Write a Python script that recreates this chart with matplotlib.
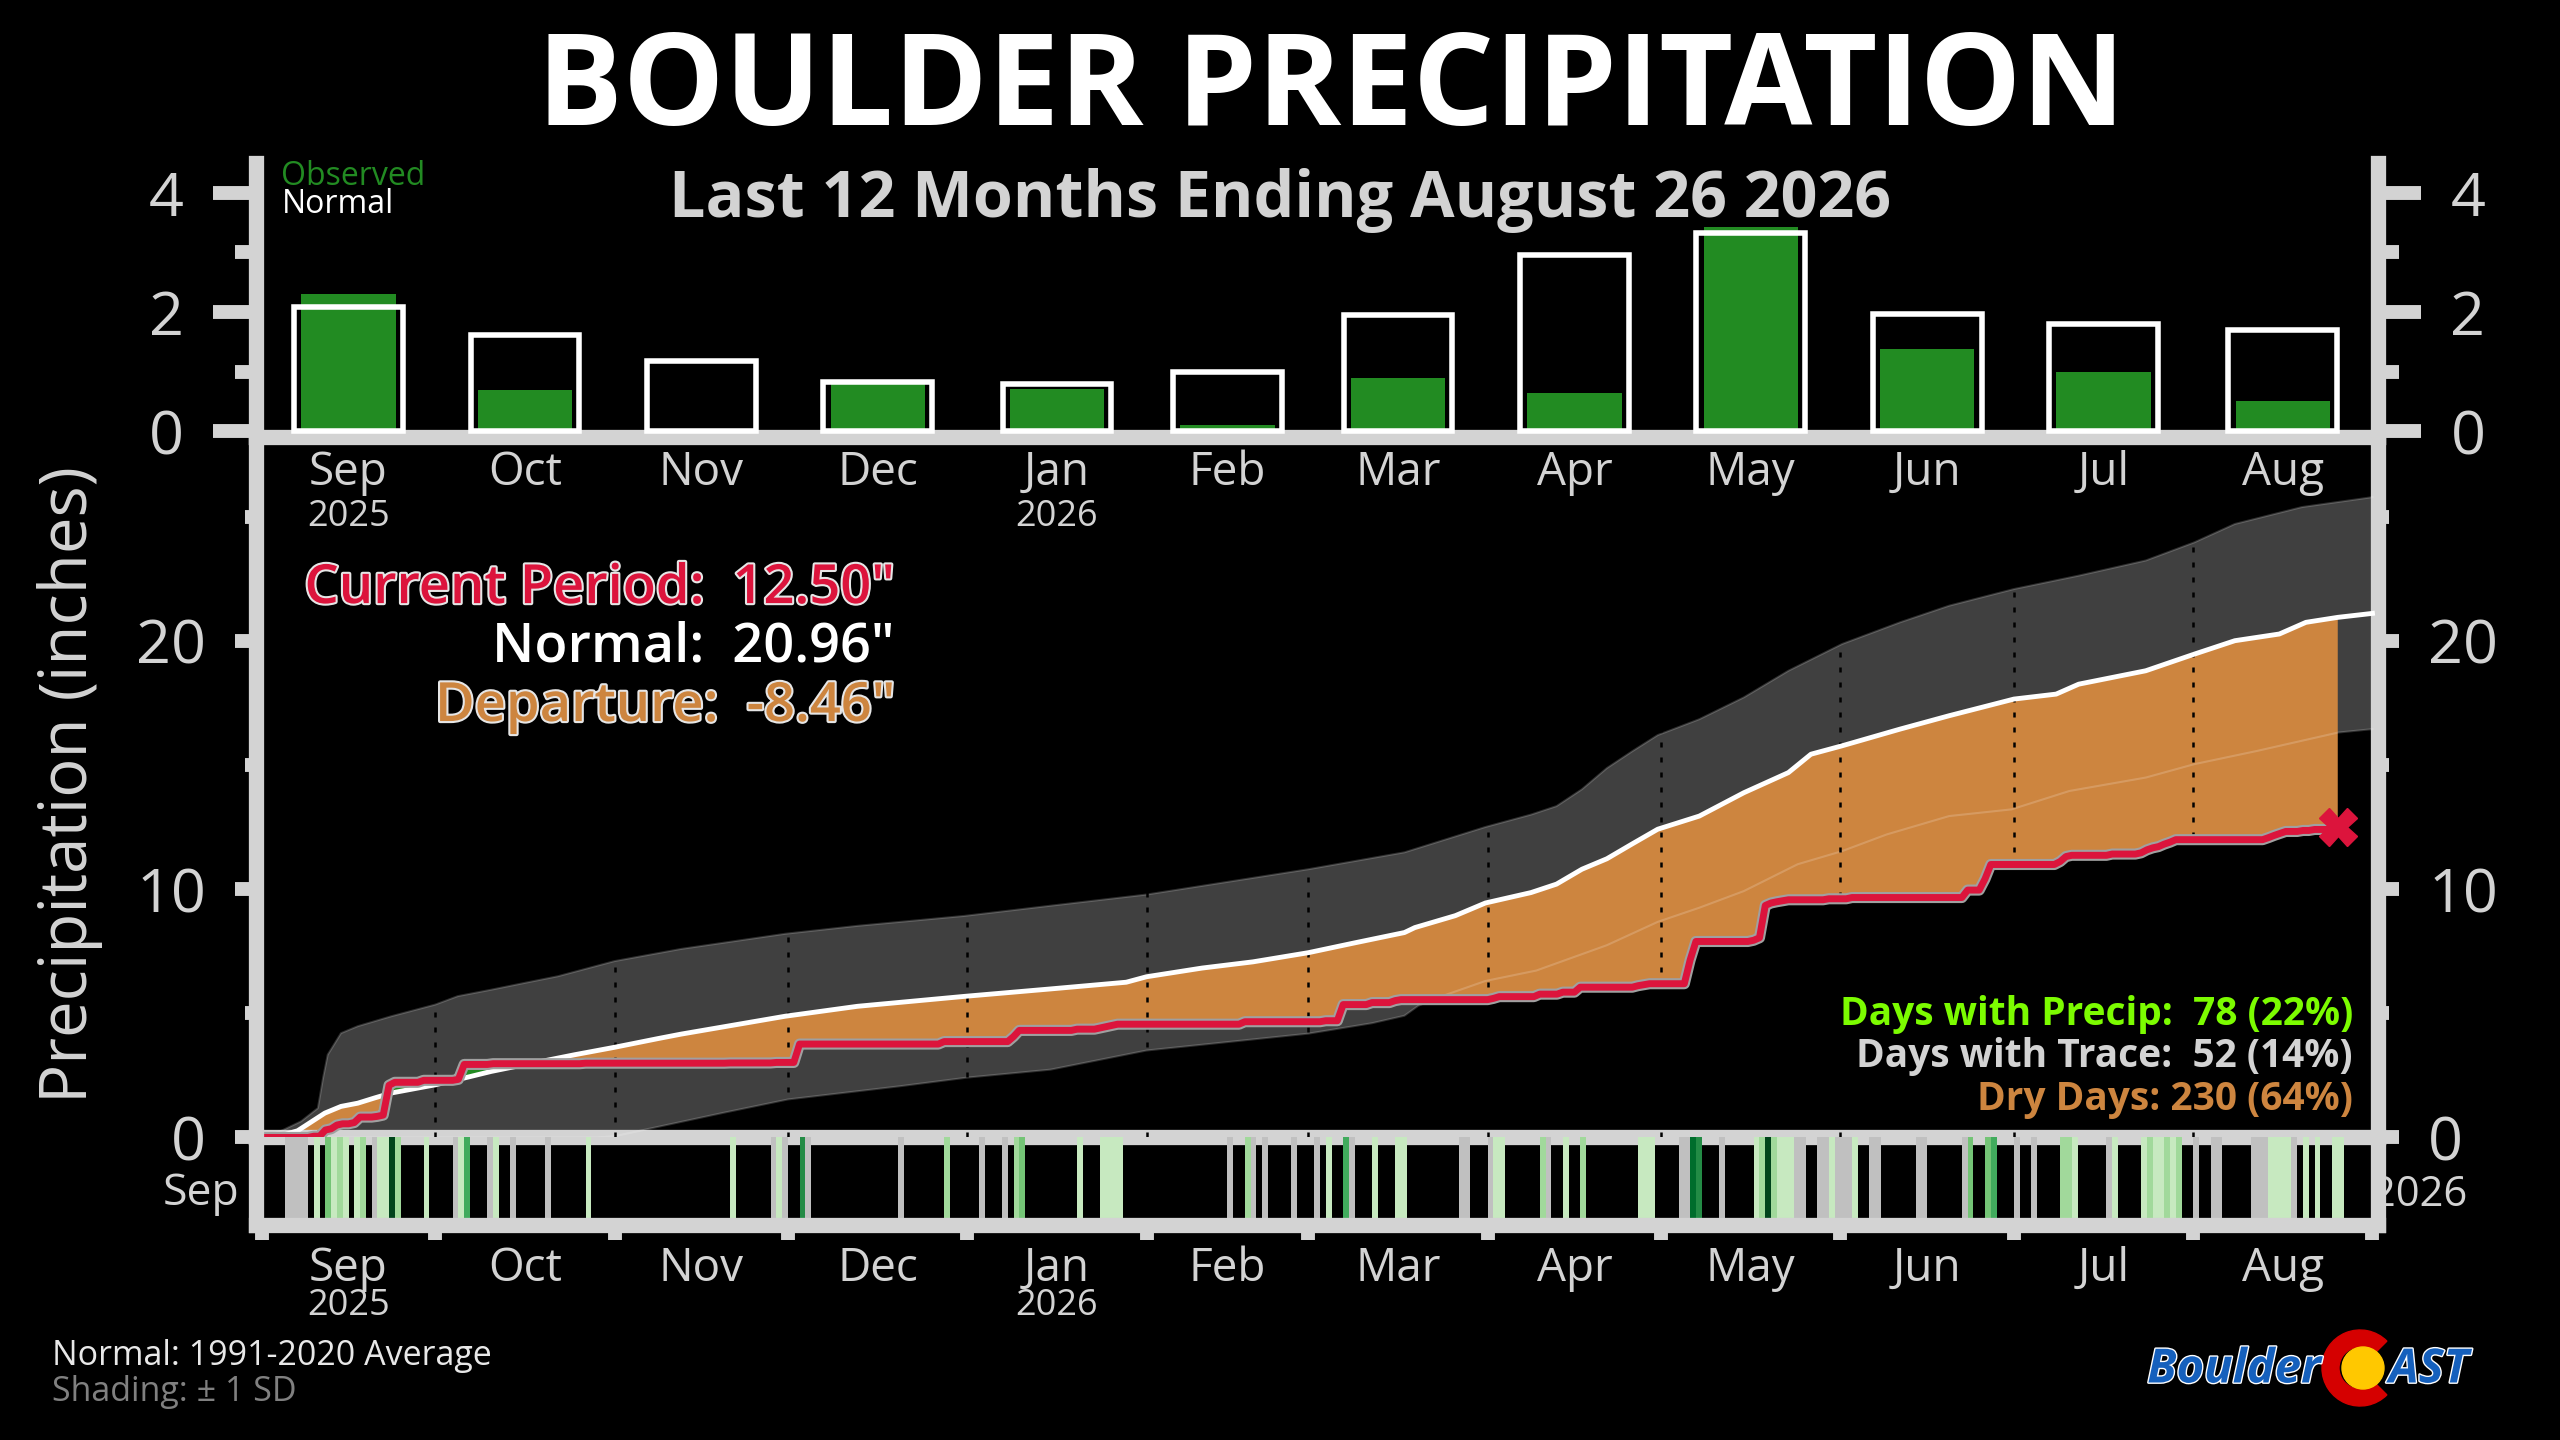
import numpy as np
import matplotlib
matplotlib.use("Agg")
import matplotlib.pyplot as plt
import matplotlib.patheffects as pe
import matplotlib.transforms as mtransforms
from matplotlib.patches import Polygon, Wedge, Circle

plt.rcParams['font.family'] = ['Open Sans', 'DejaVu Sans']

GREY = '#d3d3d3'
ORANGE = '#CD853F'
RED = '#DC143C'
GREEN = '#228B22'

# monthly values (inches)
months = ['Sep', 'Oct', 'Nov', 'Dec', 'Jan', 'Feb', 'Mar', 'Apr', 'May', 'Jun', 'Jul', 'Aug']
month_len = [30, 31, 30, 31, 31, 28, 31, 30, 31, 30, 31, 31]
normal_month = [2.08, 1.62, 1.18, 0.82, 0.79, 0.99, 1.95, 2.95, 3.33, 1.96, 1.79, 1.70]

wet_dates = ['2025-09-10', '2025-09-12', '2025-09-13', '2025-09-14', '2025-09-15', '2025-09-17',
             '2025-09-18', '2025-09-21', '2025-09-22', '2025-09-23', '2025-09-24', '2025-09-29',
             '2025-10-05', '2025-10-06', '2025-10-11', '2025-10-27',
             '2025-11-21', '2025-11-29',
             '2025-12-03', '2025-12-28',
             '2026-01-09', '2026-01-10', '2026-01-20', '2026-01-24', '2026-01-25', '2026-01-26', '2026-01-27',
             '2026-02-18',
             '2026-03-04', '2026-03-07', '2026-03-12', '2026-03-16', '2026-03-17',
             '2026-04-02', '2026-04-03', '2026-04-10', '2026-04-14', '2026-04-17', '2026-04-27',
             '2026-04-28', '2026-04-29',
             '2026-05-06', '2026-05-07', '2026-05-17', '2026-05-18', '2026-05-19', '2026-05-20',
             '2026-05-21', '2026-05-22', '2026-05-23', '2026-05-30',
             '2026-06-03', '2026-06-23', '2026-06-26', '2026-06-27',
             '2026-07-09', '2026-07-10', '2026-07-11', '2026-07-18', '2026-07-23', '2026-07-24',
             '2026-07-25', '2026-07-26', '2026-07-27', '2026-07-28', '2026-07-29',
             '2026-08-14', '2026-08-15', '2026-08-16', '2026-08-17', '2026-08-20', '2026-08-22',
             '2026-08-25', '2026-08-26']
wet_amts = [0.05, 0.25, 0.05, 0.15, 0.05, 0.05,
            0.22, 0.03, 0.05, 1.20, 0.12, 0.08,
            0.04, 0.60, 0.03, 0.02,
            0.01, 0.02,
            0.74, 0.10,
            0.20, 0.25, 0.05, 0.05, 0.05, 0.05, 0.05,
            0.10,
            0.04, 0.65, 0.08, 0.08, 0.04,
            0.05, 0.07, 0.10, 0.08, 0.20, 0.06,
            0.04, 0.04,
            0.95, 0.75, 0.05, 0.10, 1.30, 0.10,
            0.05, 0.04, 0.04, 0.04,
            0.05, 0.30, 0.45, 0.58,
            0.12, 0.20, 0.05, 0.05, 0.05, 0.12,
            0.08, 0.05, 0.10, 0.08, 0.10,
            0.08, 0.09, 0.08, 0.08, 0.04, 0.04,
            0.05, 0.05]
trace_dates = ['2025-09-05', '2025-09-06', '2025-09-07', '2025-09-08', '2025-09-20',
               '2025-10-04', '2025-10-10', '2025-10-14', '2025-10-20', '2025-11-28', '2025-11-30',
               '2025-12-04', '2025-12-20', '2026-01-03', '2026-01-07',
               '2026-02-15', '2026-02-19', '2026-02-21', '2026-02-26',
               '2026-03-02', '2026-03-08', '2026-03-27', '2026-03-28', '2026-04-01', '2026-04-11',
               '2026-05-04', '2026-05-05', '2026-05-11', '2026-05-24', '2026-05-25', '2026-05-28',
               '2026-05-29', '2026-05-31', '2026-06-01', '2026-06-02', '2026-06-06', '2026-06-07',
               '2026-06-14', '2026-06-15', '2026-06-22', '2026-07-01', '2026-07-04', '2026-07-17',
               '2026-08-01', '2026-08-04', '2026-08-05', '2026-08-11', '2026-08-12', '2026-08-13',
               '2026-08-18']

# normal accumulation and +/- 1 SD envelope (day since Sep 1, inches)
norm_day = [0, 3, 6.2, 10.9, 13.7, 16.6, 19.5, 22.4, 30, 33.9, 39.7, 43.1, 48.3, 54.1, 61, 68.5,
            72.5, 90.5, 103, 121.5, 136.4, 149.5, 153, 162.6, 171.4, 181, 188.9, 197.6, 199.4,
            206.4, 211.6, 219.5, 223.9, 228.3, 232.6, 237, 241.4, 248.6, 256.3, 264, 267.9,
            273.3, 283.3, 291.8, 303, 310.3, 314.2, 325.8, 334.2, 341.2, 348.9, 353.5, 359, 365]
norm_val = [0, 0.05, 0.27, 0.98, 1.25, 1.38, 1.59, 1.79, 2.12, 2.33, 2.66, 2.82, 3.06, 3.33, 3.63, 3.98,
            4.16, 4.88, 5.28, 5.68, 5.98, 6.25, 6.47, 6.82, 7.07, 7.44, 7.83, 8.25, 8.45,
            8.93, 9.44, 9.86, 10.2, 10.8, 11.22, 11.82, 12.41, 12.94, 13.88, 14.69, 15.43,
            15.77, 16.44, 16.98, 17.65, 17.85, 18.25, 18.79, 19.46, 20.0, 20.27, 20.74, 20.94, 21.1]
upper_day = [0, 3.4, 6.8, 9.7, 10.6, 11.4, 13.7, 16.6, 22.4, 30, 33.9, 39.7, 45.4, 51.2, 61,
             72.5, 90.5, 103, 121.5, 136.4, 153, 181, 197.6, 211.6, 219.5, 223.9, 228.3, 232.6,
             237, 241.4, 248.6, 256.3, 264, 273.3, 283.3, 291.8, 303, 314.2, 325.8, 334.2,
             341.2, 352.8, 365]
upper_val = [0, 0.27, 0.65, 1.18, 2.4, 3.33, 4.2, 4.48, 4.88, 5.35, 5.69, 5.95, 6.22, 6.49, 7.1,
             7.59, 8.2, 8.52, 8.92, 9.33, 9.78, 10.8, 11.48, 12.5, 13.0, 13.34, 14.02, 14.87,
             15.55, 16.2, 16.84, 17.72, 18.79, 19.87, 20.74, 21.41, 22.08, 22.62, 23.23, 23.96,
             24.7, 25.38, 25.78]
lower_day = [0, 58, 61, 70, 80, 91, 110.3, 122, 136.4, 153, 181, 192, 197.6, 200, 203, 211.6,
             220.4, 232.6, 241.4, 248.6, 256.3, 265.6, 273.3, 281, 291.8, 302.6, 312.6, 325.8,
             334.2, 345, 359, 365]
lower_val = [0, 0, 0.05, 0.5, 1.0, 1.53, 2.06, 2.41, 2.73, 3.5, 4.18, 4.6, 4.9, 5.3, 5.6, 6.3,
             6.72, 7.74, 8.68, 9.25, 9.92, 11.0, 11.53, 12.2, 12.94, 13.21, 13.95, 14.49,
             15.03, 15.56, 16.3, 16.44]

start = np.datetime64('2025-09-01')
last_day = 359  # Aug 26 2026

wet_idx = (np.array(wet_dates, dtype='datetime64[D]') - start).astype(int)
trace_idx = (np.array(trace_dates, dtype='datetime64[D]') - start).astype(int)
daily = np.zeros(last_day + 1)
daily[wet_idx] = wet_amts
obs_x = np.arange(last_day + 1)
obs_cum = np.cumsum(daily)

month_start = np.concatenate([[0], np.cumsum(month_len)])
month_mid = month_start[:-1] + np.array(month_len) / 2.0
obs_month = [daily[month_start[i]:month_start[i + 1]].sum() for i in range(12)]

fig = plt.figure(figsize=(25.6, 14.4), dpi=100, facecolor='black')
L, W = 0.1, 0.829
ax_top = fig.add_axes([L, 0.6965, W, 0.1903])
ax = fig.add_axes([L, 0.2101, W, 0.4864])
ax_s = fig.add_axes([L, 0.1493, W, 0.0608])

for a in (ax_top, ax, ax_s):
    a.patch.set_visible(False)
    a.set_xlim(-1, 366)
    a.spines['top'].set_visible(False)
    for s in ('left', 'right', 'bottom'):
        a.spines[s].set_color(GREY)
        a.spines[s].set_linewidth(11)

# ---- monthly bars
ax_top.bar(month_mid, obs_month, width=16.3, color=GREEN, zorder=2)
ax_top.bar(month_mid, normal_month, width=18.8, facecolor='none', edgecolor='white', lw=4, zorder=3)
ax_top.set_ylim(-0.1, 4.5)
ax_top.set_xticks(month_mid)
ax_top.set_xticklabels(months)
ax_top.tick_params(axis='x', length=0, pad=9, labelsize=33, labelcolor=GREY)
ax_top.set_yticks([0, 2, 4])
ax_top.set_yticks([1, 3], minor=True)
ax_top.tick_params(axis='y', which='both', left=True, right=True, labelleft=True, labelright=True,
                   colors=GREY, width=10, labelsize=44, pad=21)
ax_top.tick_params(axis='y', which='major', length=31)
ax_top.tick_params(axis='y', which='minor', length=15)
ax_top.text(0.012, 0.95, 'Observed', color=GREEN, fontsize=23, transform=ax_top.transAxes, va='center')
ax_top.text(0.012, 0.848, 'Normal', color='white', fontsize=23, transform=ax_top.transAxes, va='center')
tr = mtransforms.blended_transform_factory(ax_top.transData, ax_top.transAxes)
ax_top.text(month_mid[0], -0.29, '2025', transform=tr, ha='center', va='center', fontsize=26, color=GREY)
ax_top.text(month_mid[4], -0.29, '2026', transform=tr, ha='center', va='center', fontsize=26, color=GREY)

# ---- cumulative chart
ax.set_ylim(0, 28.2)
ax.set_xticks([])
band = Polygon(np.column_stack([np.r_[upper_day, lower_day[::-1]], np.r_[upper_val, lower_val[::-1]]]),
               closed=True, facecolor='#404040', edgecolor='none', zorder=1)
ax.add_patch(band)

below_norm = ax.fill_between(norm_day, norm_val, 0, color=ORANGE, lw=0, zorder=2)
above_obs = Polygon(np.vstack([np.column_stack([obs_x, obs_cum]), [[last_day, 100], [0, 100]]]),
                    closed=True, transform=ax.transData)
below_norm.set_clip_path(above_obs)
below_obs = ax.fill_between(obs_x, obs_cum, 0, color=GREEN, lw=0, zorder=2)
above_norm = Polygon(np.vstack([np.column_stack([norm_day, norm_val]), [[365, 100], [0, 100]]]),
                     closed=True, transform=ax.transData)
below_obs.set_clip_path(above_norm)

ax.plot(upper_day, upper_val, color='white', alpha=0.18, lw=1.5, zorder=3)
ax.plot(lower_day, lower_val, color='white', alpha=0.18, lw=1.5, zorder=3)
ax.vlines(month_start[1:-1], 0, 27, colors='black', linestyles=(0, (2, 4)), lw=1.8, zorder=3.5)
ax.plot(norm_day, norm_val, color='white', lw=3.5, zorder=4)
ax.plot(obs_x, obs_cum, color=RED, lw=5, zorder=5,
        path_effects=[pe.Stroke(linewidth=8, foreground='#a0a0a0'), pe.Normal()])
ax.plot(obs_x[-1], obs_cum[-1], marker='X', ms=27, color=RED, mec=RED, zorder=6)

ax.set_yticks([0, 10, 20])
ax.set_yticks([5, 15, 25], minor=True)
ax.tick_params(axis='y', which='both', left=True, right=True, labelleft=True, labelright=True,
               colors=GREY, width=10, labelsize=44, pad=21)
ax.tick_params(axis='y', which='major', length=15)
ax.tick_params(axis='y', which='minor', length=8)

# ---- day strip
levels = [0.1, 0.25, 0.5, 0.7, 0.9, 1.1]
shades = ['#c7e9c0', '#a1d99b', '#74c476', '#41ab5d', '#238b45', '#006d2c', '#00441b']
wet_colors = [shades[np.searchsorted(levels, a, side='right')] for a in wet_amts]
ax_s.bar(trace_idx, 1, width=1, align='edge', color='#c0c0c0', lw=0)
ax_s.bar(wet_idx, 1, width=1, align='edge', color=wet_colors, lw=0)
ax_s.set_ylim(0, 1)
ax_s.set_yticks([])
ax_s.set_xticks(month_start)
ax_s.set_xticklabels([])
ax_s.set_xticks(month_mid, minor=True)
ax_s.set_xticklabels(months, minor=True)
ax_s.tick_params(axis='x', which='major', length=11, width=10, colors=GREY)
ax_s.tick_params(axis='x', which='minor', length=0, pad=15, labelsize=33, labelcolor=GREY)
trs = mtransforms.blended_transform_factory(ax_s.transData, ax_s.transAxes)
ax_s.text(month_mid[0], -0.92, '2025', transform=trs, ha='center', va='center', fontsize=26, color=GREY)
ax_s.text(month_mid[4], -0.92, '2026', transform=trs, ha='center', va='center', fontsize=26, color=GREY)
ax_s.text(-3.8, 0.36, 'Sep', ha='right', va='center', fontsize=32, color=GREY, clip_on=False)
ax_s.text(364.9, 0.34, '2026', ha='left', va='center', fontsize=30, color=GREY, clip_on=False, zorder=1)

# ---- titles and annotations
fig.text(0.52, 0.936, 'BOULDER PRECIPITATION', ha='center', va='center', fontsize=92,
         fontweight='bold', color='white')
fig.text(0.5, 0.861, 'Last 12 Months Ending August 26 2026', ha='center', va='center', fontsize=46.5,
         fontweight='bold', color=GREY)
fig.text(0.0275, 0.455, 'Precipitation (inches)', rotation=90, ha='center', va='center',
         fontsize=47, color=GREY)

outline = [pe.withStroke(linewidth=3, foreground='#e6e6e6')]
fig.text(0.3496, 0.5909, 'Current Period:  12.50"', ha='right', va='center', fontsize=39,
         fontweight='semibold', color=RED, path_effects=outline)
fig.text(0.3496, 0.55, 'Normal:  20.96"', ha='right', va='center', fontsize=39,
         fontweight='semibold', color='white')
fig.text(0.3496, 0.509, 'Departure:  -8.46"', ha='right', va='center', fontsize=39,
         fontweight='semibold', color=ORANGE, path_effects=outline)

fig.text(0.9191, 0.2958, 'Days with Precip:  78 (22%)', ha='right', va='center', fontsize=28,
         fontweight='bold', color='#7CFC00')
fig.text(0.9191, 0.2666, 'Days with Trace:  52 (14%)', ha='right', va='center', fontsize=28,
         fontweight='bold', color=GREY)
fig.text(0.9191, 0.2368, 'Dry Days: 230 (64%)', ha='right', va='center', fontsize=28,
         fontweight='bold', color=ORANGE)

fig.text(0.0203, 0.058, 'Normal: 1991-2020 Average', ha='left', va='center', fontsize=24.5, color='#e8e8e8')
fig.text(0.0203, 0.033, 'Shading: \u00b1 1 SD', ha='left', va='center', fontsize=24.5, color='#808080')

# ---- logo
ax_logo = fig.add_axes([2140 / 2560, 1 - 1415 / 1440, 350 / 2560, 95 / 1440])
ax_logo.set_xlim(2140, 2490)
ax_logo.set_ylim(1415, 1320)
ax_logo.axis('off')
ax_logo.add_patch(Wedge((2360, 1368), 38, 45, 315, width=17, color='#D50000'))
ax_logo.add_patch(Circle((2363, 1368), 21, color='#FFC800'))
logo_fx = [pe.withStroke(linewidth=2, foreground='white')]
ax_logo.text(2321, 1370, 'Boulder', ha='right', va='center', fontsize=34, fontweight='bold',
             fontstyle='italic', color='#1560BD', path_effects=logo_fx)
ax_logo.text(2389, 1370, 'AST', ha='left', va='center', fontsize=34, fontweight='bold',
             fontstyle='italic', color='#1560BD', path_effects=logo_fx)

fig.savefig('out.png', dpi=100, facecolor='black')
